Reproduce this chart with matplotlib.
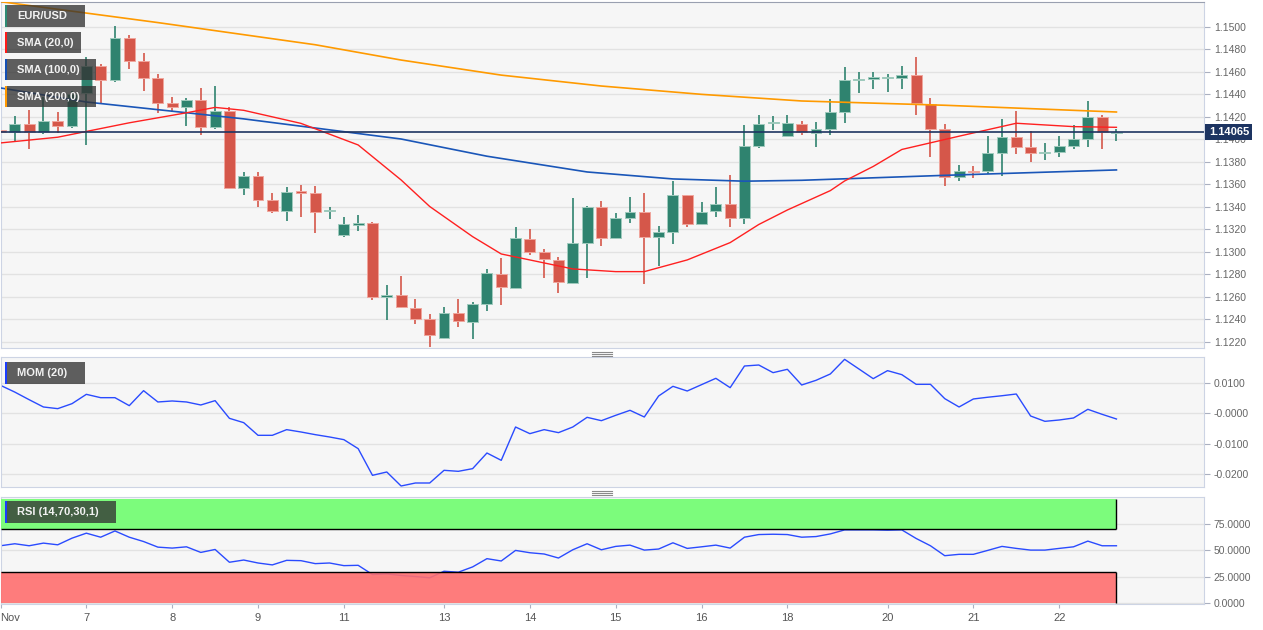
import matplotlib
matplotlib.use('Agg')
import matplotlib.pyplot as plt
import matplotlib.transforms as mtransforms
import numpy as np
from matplotlib.patches import Rectangle
from matplotlib.lines import Line2D

W, H = 1263, 630

# 4h candles, EUR/USD, Nov 6 - Nov 22
opens = [1.14084, 1.14064, 1.14138, 1.14070, 1.14167, 1.14123, 1.14410, 1.14657, 1.14530, 1.14899,
         1.14698, 1.14544, 1.14328, 1.14292, 1.14351, 1.14114, 1.14253, 1.13566, 1.13672, 1.13462,
         1.13367, 1.13545, 1.13527, 1.13361, 1.13154, 1.13243, 1.13255, 1.12603, 1.12621, 1.12505,
         1.12404, 1.12238, 1.12455, 1.12380, 1.12538, 1.12804, 1.12683, 1.13113, 1.13003, 1.12929,
         1.12727, 1.13083, 1.13397, 1.13124, 1.13305, 1.13358, 1.13130, 1.13181, 1.13507, 1.13246,
         1.13364, 1.13424, 1.13299, 1.13945, 1.14144, 1.14031, 1.14134, 1.14054, 1.14096, 1.14244,
         1.14526, 1.14540, 1.14543, 1.14543, 1.14573, 1.14315, 1.14093, 1.13670, 1.13720, 1.13717,
         1.13877, 1.14019, 1.13936, 1.13883, 1.13889, 1.13945, 1.14004, 1.14197, 1.14060]
highs = [1.14120, 1.14209, 1.14262, 1.14381, 1.14247, 1.14430, 1.14730, 1.14670, 1.15009, 1.14929,
         1.14772, 1.14582, 1.14375, 1.14366, 1.14455, 1.14476, 1.14289, 1.13711, 1.13711, 1.13521,
         1.13575, 1.13598, 1.13587, 1.13397, 1.13308, 1.13326, 1.13270, 1.12707, 1.12787, 1.12580,
         1.12449, 1.12508, 1.12580, 1.12558, 1.12846, 1.12944, 1.13225, 1.13201, 1.13024, 1.12953,
         1.13477, 1.13410, 1.13453, 1.13344, 1.13486, 1.13521, 1.13231, 1.13628, 1.13510, 1.13441,
         1.13575, 1.13681, 1.14129, 1.14218, 1.14209, 1.14218, 1.14167, 1.14155, 1.14357, 1.14641,
         1.14597, 1.14597, 1.14582, 1.14653, 1.14730, 1.14366, 1.14137, 1.13770, 1.13764, 1.14031,
         1.14179, 1.14250, 1.14072, 1.13972, 1.14031, 1.14129, 1.14342, 1.14214, 1.14090]
lows = [1.14040, 1.13990, 1.13913, 1.14049, 1.14055, 1.14105, 1.13951, 1.14316, 1.14510, 1.14624,
        1.14434, 1.14233, 1.14248, 1.14120, 1.14040, 1.14090, 1.13560, 1.13510, 1.13403, 1.13350,
        1.13273, 1.13308, 1.13166, 1.13296, 1.13136, 1.13190, 1.12573, 1.12395, 1.12499, 1.12357,
        1.12152, 1.12224, 1.12336, 1.12224, 1.12475, 1.12526, 1.12671, 1.12970, 1.12766, 1.12632,
        1.12715, 1.12766, 1.13056, 1.13112, 1.13261, 1.12715, 1.12875, 1.13071, 1.13219, 1.13237,
        1.13314, 1.13219, 1.13249, 1.13921, 1.14084, 1.14030, 1.14037, 1.13930, 1.14037, 1.14143,
        1.14410, 1.14452, 1.14425, 1.14446, 1.14215, 1.13841, 1.13586, 1.13631, 1.13657, 1.13693,
        1.13675, 1.13868, 1.13797, 1.13817, 1.13847, 1.13912, 1.13936, 1.13912, 1.13990]
closes = [1.14064, 1.14138, 1.14070, 1.14167, 1.14123, 1.14400, 1.14657, 1.14530, 1.14899, 1.14698,
          1.14544, 1.14328, 1.14292, 1.14351, 1.14114, 1.14253, 1.13566, 1.13675, 1.13462, 1.13367,
          1.13533, 1.13527, 1.13355, 1.13376, 1.13246, 1.13261, 1.12597, 1.12621, 1.12508, 1.12404,
          1.12259, 1.12455, 1.12386, 1.12535, 1.12813, 1.12686, 1.13124, 1.13003, 1.12935, 1.12730,
          1.13077, 1.13403, 1.13124, 1.13299, 1.13358, 1.13136, 1.13178, 1.13507, 1.13246, 1.13355,
          1.13424, 1.13299, 1.13945, 1.14138, 1.14158, 1.14144, 1.14066, 1.14093, 1.14244, 1.14526,
          1.14537, 1.14552, 1.14545, 1.14573, 1.14321, 1.14096, 1.13670, 1.13720, 1.13711, 1.13883,
          1.14019, 1.13936, 1.13883, 1.13889, 1.13942, 1.14004, 1.14197, 1.14066, 1.14065]

# moving averages (candle index, value)
sma20_idx = [0, 4, 9, 13, 15, 17, 21, 25, 28, 30, 33, 35, 40, 43, 45, 48, 51, 53, 55, 58, 59, 61, 63, 67, 71, 75, 78]
sma20_val = [1.13969, 1.14020, 1.14148, 1.14237, 1.14285, 1.14259, 1.14143, 1.13951, 1.13640, 1.13404,
             1.13136, 1.12982, 1.12849, 1.12825, 1.12825, 1.12929, 1.13083, 1.13244, 1.13373, 1.13545,
             1.13631, 1.13760, 1.13911, 1.14029, 1.14144, 1.14114, 1.14108]
sma100_idx = [0, 6, 17, 28, 34, 41, 47, 52, 56, 66, 78]
sma100_val = [1.14458, 1.14333, 1.14183, 1.14004, 1.13851, 1.13711, 1.13649, 1.13629, 1.13637, 1.13681, 1.13729]
sma200_idx = [0, 11, 22, 28, 35, 42, 49, 56, 66, 78]
sma200_val = [1.15225, 1.15039, 1.14842, 1.14706, 1.14572, 1.14475, 1.14401, 1.14342, 1.14304, 1.14244]

mom_values = [0.00923, 0.00700, 0.00450, 0.00209, 0.00154, 0.00319, 0.00626, 0.00516, 0.00516, 0.00253,
              0.00747, 0.00374, 0.00407, 0.00374, 0.00275, 0.00418, -0.00165, -0.00308, -0.00725, -0.00725,
              -0.00538, -0.00615, -0.00703, -0.00780, -0.00868, -0.01165, -0.02044, -0.01934, -0.02396, -0.02297,
              -0.02297, -0.01879, -0.01912, -0.01824, -0.01308, -0.01550, -0.00451, -0.00670, -0.00538, -0.00637,
              -0.00451, -0.00132, -0.00242, -0.00066, 0.00099, -0.00121, 0.00571, 0.00890, 0.00736, 0.00945,
              0.01154, 0.00846, 0.01560, 0.01593, 0.01341, 0.01451, 0.00934, 0.01088, 0.01297, 0.01780,
              0.01462, 0.01143, 0.01407, 0.01275, 0.00956, 0.00956, 0.00484, 0.00209, 0.00473, 0.00530,
              0.00580, 0.00637, -0.00088, -0.00264, -0.00220, -0.00154, 0.00132, -0.00033, -0.00187]
rsi_values = [54.4, 56.3, 54.4, 56.9, 55.3, 61.6, 66.3, 62.5, 68.4, 62.5,
              58.4, 53.1, 52.2, 53.4, 48.1, 50.9, 38.8, 40.9, 38.1, 36.3,
              40.6, 40.3, 37.5, 38.1, 35.6, 35.9, 27.2, 27.8, 26.3, 25.3,
              24.1, 30.3, 29.4, 34.4, 42.2, 40.0, 50.0, 47.8, 46.6, 42.8,
              50.6, 56.3, 50.6, 53.8, 55.0, 50.3, 51.3, 57.2, 51.9, 53.4,
              55.0, 52.2, 62.5, 65.0, 65.3, 65.0, 62.5, 63.1, 65.6, 69.4,
              69.4, 69.4, 69.1, 69.4, 61.3, 54.4, 45.0, 46.3, 46.3, 50.0,
              53.8, 51.9, 50.3, 50.3, 51.9, 53.4, 58.8, 54.4, 54.4]

last_price = 1.14065
price_ticks = [1.1220, 1.1240, 1.1260, 1.1280, 1.1300, 1.1320, 1.1340, 1.1360,
               1.1380, 1.1400, 1.1420, 1.1440, 1.1460, 1.1480, 1.1500]
mom_ticks = [0.01, 0.0, -0.01, -0.02]
mom_labels = ['0.0100', '-0.0000', '-0.0100', '-0.0200']
rsi_ticks = [0, 25, 50, 75]
rsi_labels = ['0.0000', '25.0000', '50.0000', '75.0000']
date_ticks = [0, 6, 12, 18, 24, 31, 37, 43, 49, 55, 62, 68, 74]
date_labels = ['Nov', '7', '8', '9', '11', '13', '14', '15', '16', '18', '20', '21', '22']

GREEN = '#2f836f'
RED = '#d5574a'
BG = '#f6f6f6'
GRID = '#e2e2e2'
SPINE = '#cdd4e4'

plt.rcParams['font.family'] = ['Liberation Sans', 'DejaVu Sans']


def px_rect(x0, y0, x1, y1):
    # pixel box (from top-left) -> figure fraction rect
    return [x0 / W, 1 - y1 / H, (x1 - x0) / W, (y1 - y0) / H]


def style_axes(ax, ticks, labels):
    ax.set_facecolor(BG)
    for s in ax.spines.values():
        s.set_color(SPINE)
    ax.yaxis.tick_right()
    ax.set_yticks(ticks)
    ax.set_yticklabels(labels)
    ax.tick_params(axis='y', length=4, color='#aab0c0', labelcolor='#666666', labelsize=7.5, pad=3)
    ax.grid(axis='y', color=GRID, lw=1)
    ax.set_axisbelow(True)


fig = plt.figure(figsize=(W / 100, H / 100), dpi=100)
ax = fig.add_axes(px_rect(0.5, 2, 1204, 348))
ax_mom = fig.add_axes(px_rect(0.5, 357.3, 1204, 487), sharex=ax)
ax_rsi = fig.add_axes(px_rect(0.5, 496.7, 1204, 603.7), sharex=ax)

xmin, xmax = 0.021, 84.12
n = len(closes)
idx = np.arange(n)
o = np.array(opens)
c = np.array(closes)
up = c >= o
colors = np.where(up, GREEN, RED)
edges = np.where(up, '#9fcabd', '#f0a59c')

# candles
ax.vlines(idx, lows, highs, colors=colors, lw=1.2, zorder=2)
body_h = np.maximum(np.abs(c - o), 0.00008)
ax.bar(idx, body_h, bottom=np.minimum(o, c), width=0.76, color=colors,
       edgecolor=edges, linewidth=0.7, zorder=3)

ax.plot(sma200_idx, sma200_val, color='#ff9a00', lw=1.2, zorder=4)
ax.plot(sma100_idx, sma100_val, color='#1a56b8', lw=1.2, zorder=4)
ax.plot(sma20_idx, sma20_val, color='#ff2020', lw=1.0, zorder=4)
ax.axhline(last_price, color='#1d3461', lw=1.2, zorder=5)

style_axes(ax, price_ticks, ['%.4f' % t for t in price_ticks])
ax.set_ylim(1.12146, 1.15222)
ax.set_xlim(xmin, xmax)
ax.spines['top'].set_color('#9aa0b0')
ax.tick_params(axis='x', bottom=False, labelbottom=False)

trans = mtransforms.blended_transform_factory(ax.transAxes, ax.transData)
ax.text(1.004, last_price, '1.14065', transform=trans, ha='left', va='center',
        color='white', fontsize=8, fontweight='bold', zorder=10, clip_on=False,
        bbox=dict(boxstyle='square,pad=0.3', facecolor='#1d3461', edgecolor='none'))

# momentum
ax_mom.plot(idx, mom_values, color='#2a4bff', lw=1.0)
style_axes(ax_mom, mom_ticks, mom_labels)
ax_mom.set_ylim(-0.02429, 0.01847)
ax_mom.tick_params(axis='x', bottom=False, labelbottom=False)

# rsi
ax_rsi.plot(idx, rsi_values, color='#2a4bff', lw=1.0, zorder=2)
ax_rsi.add_patch(Rectangle((xmin, 70), 78 - xmin, 29, facecolor='#7cfc7c', edgecolor='none', zorder=3))
ax_rsi.add_patch(Rectangle((xmin, 0), 78 - xmin, 30, facecolor='#ff6f6f', alpha=0.9, edgecolor='none', zorder=3))
ax_rsi.hlines([70, 30], xmin, 78, colors='black', lw=1, zorder=4)
ax_rsi.vlines([78, 78], [70, 0], [99, 30], colors='black', lw=1, zorder=4)
style_axes(ax_rsi, rsi_ticks, rsi_labels)
ax_rsi.set_ylim(-0.4, 100.8)
ax_rsi.set_xticks(date_ticks)
ax_rsi.set_xticklabels(date_labels)
ax_rsi.tick_params(axis='x', length=3, color='#aab0c0', labelcolor='#555555', labelsize=8, pad=4)
ax_rsi.get_xticklabels()[0].set_ha('left')


def legend_box(x0, y0, x1, y1, stripe, text):
    fig.add_artist(Rectangle((x0 / W, 1 - y1 / H), (x1 - x0) / W, (y1 - y0) / H,
                             transform=fig.transFigure, facecolor=(0.2, 0.2, 0.2),
                             alpha=0.78, edgecolor='none', zorder=10))
    fig.add_artist(Rectangle((x0 / W, 1 - y1 / H), 2.5 / W, (y1 - y0) / H,
                             transform=fig.transFigure, facecolor=stripe,
                             edgecolor='none', zorder=11))
    fig.text((x0 + 12) / W, 1 - (y0 + y1) / 2 / H, text, color='#f2f2f2', fontsize=8,
             fontweight='bold', ha='left', va='center', zorder=12)


legend_box(5, 5, 85, 26.7, '#2e8b74', 'EUR/USD')
legend_box(5, 32.3, 80.7, 53.3, '#ff1a1a', 'SMA (20,0)')
legend_box(5, 59.3, 96, 80.3, '#1450b4', 'SMA (100,0)')
legend_box(5, 86, 96, 107.3, '#ff9900', 'SMA (200,0)')
legend_box(5, 362, 84.5, 383.7, '#1a3cff', 'MOM (20)')
legend_box(5, 501, 116, 523, '#1a3cff', 'RSI (14,70,30,1)')

# pane resize handles
for yy in [351.5, 353.5, 355.5, 490.5, 492.5, 494.5]:
    fig.add_artist(Line2D([592 / W, 612 / W], [1 - yy / H] * 2, color='#8a8a8a', lw=0.8))

fig.savefig('out.png', dpi=100, facecolor='white')
